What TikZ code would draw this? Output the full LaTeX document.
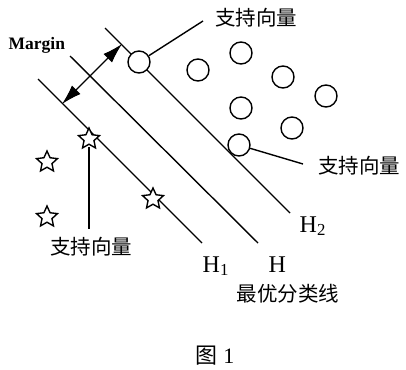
\documentclass[tikz,border=0pt]{standalone}
\usepackage{fontspec}
\setmainfont{Liberation Serif}
\newfontfamily\cjk{Noto Sans CJK SC}
\usetikzlibrary{shapes.geometric,arrows.meta}
\begin{document}
\begin{tikzpicture}[x=1pt,y=-1pt,line width=1.4pt,
  sv/.style={circle,draw,fill=white,minimum size=22pt,inner sep=0pt},
  starnode/.style={star,star points=5,star point ratio=2.1,draw,fill=white,
    minimum size=22pt,inner sep=0pt,line width=1.4pt},
  cjklabel/.style={font=\cjk\fontsize{20.5}{20.5}\selectfont,inner sep=0pt},
  hlabel/.style={font=\fontsize{24}{24}\selectfont,inner sep=0pt},
  mtip/.tip={Latex[length=20pt,width=12pt]}]
\useasboundingbox (0,0) rectangle (406,369);

% hyperplanes H1, H, H2
\coordinate (h1a) at (38,79);  \coordinate (h1b) at (202,243);
\coordinate (ha)  at (70,56);  \coordinate (hb)  at (258,243);
\coordinate (h2a) at (105,28); \coordinate (h2b) at (290,213);
\draw (h1a) -- (h1b);
\draw (ha) -- (hb);
\draw (h2a) -- (h2b);

% margin arrow between H1 and H2
\coordinate (m1) at (62,104);
\coordinate (m2) at (122,44);
\draw[line width=1.1pt,mtip-mtip] (m1) -- (m2);
\node[anchor=base west,inner sep=0pt,font=\bfseries\fontsize{17.5}{17.5}\selectfont] (mlab) at (8,49) {Margin};

% positive class (circles)
\node[sv] (c0) at (139,62) {};
\node[sv] (c1) at (198,70) {};
\node[sv] (c2) at (241,53) {};
\node[sv] (c3) at (283,77) {};
\node[sv] (c4) at (326,96) {};
\node[sv] (c5) at (241,108) {};
\node[sv] (c6) at (292,128) {};
\node[sv] (c7) at (239,145) {};

% negative class (stars)
\node[starnode] (s0) at (89,139) {};
\node[starnode] (s1) at (153,199) {};
\node[starnode] (s2) at (47,162) {};
\node[starnode] (s3) at (47,217) {};

% support vector labels
\node[cjklabel] (t1) at (256,18) {支持向量};
\node[cjklabel] (t2) at (359,166) {支持向量};
\node[cjklabel] (t3) at (91,247) {支持向量};
\coordinate (e1) at (203,21);
\coordinate (e2) at (303,164);
\coordinate (e3) at (89,229);
\draw (c0) -- (e1);
\draw (c7) -- (e2);
\draw (s0.center) ++(0,8) -- (e3);

% hyperplane names
\node[hlabel,anchor=base west] (lh1) at (202,272) {H\textsubscript{1}};
\node[hlabel,anchor=base west] (lh)  at (268,272) {H};
\node[hlabel,anchor=base west] (lh2) at (299,232) {H\textsubscript{2}};
\node[cjklabel] (best) at (288,294) {最优分类线};

% caption
\node[inner sep=0pt,font=\fontsize{22}{22}\selectfont] (cap) at (215,356) {{\cjk 图} 1};
\end{tikzpicture}
\end{document}
